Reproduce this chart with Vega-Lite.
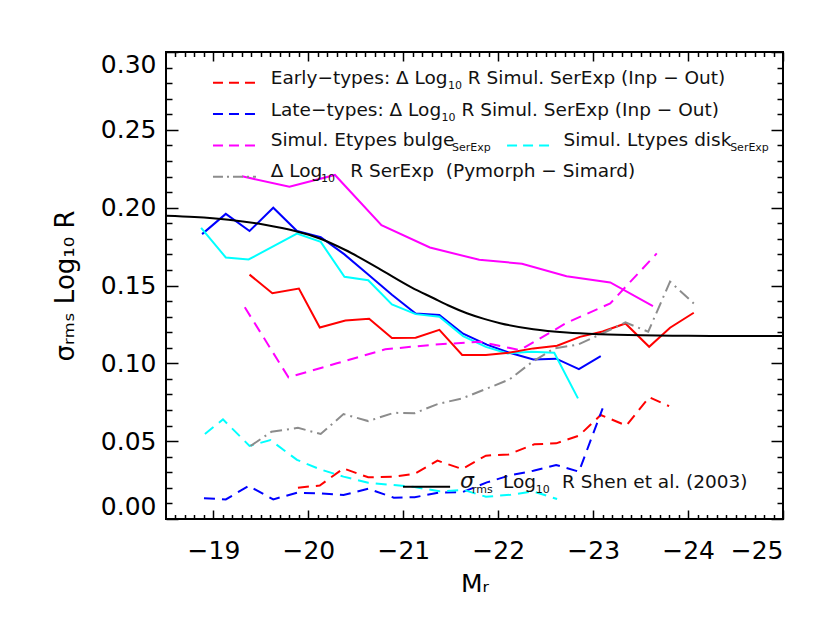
{
  "$schema": "https://vega.github.io/schema/vega-lite/v6.json",
  "width": 617,
  "height": 467,
  "autosize": {"type": "none"},
  "padding": {"left": 166, "top": 52, "right": 47, "bottom": 105},
  "background": "white",
  "config": {
    "view": {"stroke": "black", "strokeWidth": 2},
    "axis": {"grid": false, "tickColor": "black", "tickWidth": 1.5, "labelColor": "black", "titleColor": "black", "labelOverlap": false, "labelBound": false}
  },
  "datasets": {
    "solid": [
      {"series": "Late", "x": -18.88, "y": 0.183}, {"series": "Late", "x": -19.13, "y": 0.196}, {"series": "Late", "x": -19.38, "y": 0.185}, {"series": "Late", "x": -19.63, "y": 0.2}, {"series": "Late", "x": -19.88, "y": 0.185}, {"series": "Late", "x": -20.13, "y": 0.181}, {"series": "Late", "x": -20.38, "y": 0.17}, {"series": "Late", "x": -20.63, "y": 0.157}, {"series": "Late", "x": -20.88, "y": 0.144}, {"series": "Late", "x": -21.13, "y": 0.132}, {"series": "Late", "x": -21.38, "y": 0.131}, {"series": "Late", "x": -21.63, "y": 0.119}, {"series": "Late", "x": -21.88, "y": 0.112}, {"series": "Late", "x": -22.11, "y": 0.107}, {"series": "Late", "x": -22.37, "y": 0.1025}, {"series": "Late", "x": -22.61, "y": 0.103}, {"series": "Late", "x": -22.85, "y": 0.0963}, {"series": "Late", "x": -23.08, "y": 0.1046},
      {"series": "Ldisk", "x": -18.87, "y": 0.187}, {"series": "Ldisk", "x": -19.13, "y": 0.168}, {"series": "Ldisk", "x": -19.37, "y": 0.1667}, {"series": "Ldisk", "x": -19.88, "y": 0.1834}, {"series": "Ldisk", "x": -20.13, "y": 0.178}, {"series": "Ldisk", "x": -20.38, "y": 0.1556}, {"series": "Ldisk", "x": -20.63, "y": 0.1534}, {"series": "Ldisk", "x": -20.88, "y": 0.1378}, {"series": "Ldisk", "x": -21.13, "y": 0.1316}, {"series": "Ldisk", "x": -21.38, "y": 0.13}, {"series": "Ldisk", "x": -21.63, "y": 0.1175}, {"series": "Ldisk", "x": -21.87, "y": 0.1106}, {"series": "Ldisk", "x": -22.1, "y": 0.1064}, {"series": "Ldisk", "x": -22.35, "y": 0.1074}, {"series": "Ldisk", "x": -22.59, "y": 0.1068}, {"series": "Ldisk", "x": -22.84, "y": 0.0775},
      {"series": "Early", "x": -19.38, "y": 0.157}, {"series": "Early", "x": -19.62, "y": 0.145}, {"series": "Early", "x": -19.9, "y": 0.148}, {"series": "Early", "x": -20.12, "y": 0.123}, {"series": "Early", "x": -20.39, "y": 0.1275}, {"series": "Early", "x": -20.64, "y": 0.1286}, {"series": "Early", "x": -20.88, "y": 0.1163}, {"series": "Early", "x": -21.13, "y": 0.1164}, {"series": "Early", "x": -21.38, "y": 0.1215}, {"series": "Early", "x": -21.62, "y": 0.1054}, {"series": "Early", "x": -21.87, "y": 0.1054}, {"series": "Early", "x": -22.11, "y": 0.1068}, {"series": "Early", "x": -22.37, "y": 0.1096}, {"series": "Early", "x": -22.62, "y": 0.1113}, {"series": "Early", "x": -22.86, "y": 0.117}, {"series": "Early", "x": -23.1, "y": 0.1205}, {"series": "Early", "x": -23.34, "y": 0.1256}, {"series": "Early", "x": -23.59, "y": 0.1106}, {"series": "Early", "x": -23.81, "y": 0.1229}, {"series": "Early", "x": -24.06, "y": 0.1325},
      {"series": "Ebulge", "x": -19.3, "y": 0.2202}, {"series": "Ebulge", "x": -19.8, "y": 0.2134}, {"series": "Ebulge", "x": -20.28, "y": 0.221}, {"series": "Ebulge", "x": -20.77, "y": 0.1888}, {"series": "Ebulge", "x": -21.28, "y": 0.1744}, {"series": "Ebulge", "x": -21.8, "y": 0.1665}, {"series": "Ebulge", "x": -22.25, "y": 0.164}, {"series": "Ebulge", "x": -22.72, "y": 0.156}, {"series": "Ebulge", "x": -23.18, "y": 0.152}, {"series": "Ebulge", "x": -23.63, "y": 0.1368}
    ],
    "dashed": [
      {"series": "Ebulge", "x": -19.33, "y": 0.136}, {"series": "Ebulge", "x": -19.79, "y": 0.091}, {"series": "Ebulge", "x": -20.3, "y": 0.1}, {"series": "Ebulge", "x": -20.81, "y": 0.109}, {"series": "Ebulge", "x": -21.32, "y": 0.112}, {"series": "Ebulge", "x": -21.81, "y": 0.1138}, {"series": "Ebulge", "x": -22.23, "y": 0.1085}, {"series": "Ebulge", "x": -22.72, "y": 0.126}, {"series": "Ebulge", "x": -23.18, "y": 0.1385}, {"series": "Ebulge", "x": -23.67, "y": 0.1706},
      {"series": "Early", "x": -19.89, "y": 0.0201}, {"series": "Early", "x": -20.12, "y": 0.0215}, {"series": "Early", "x": -20.37, "y": 0.0325}, {"series": "Early", "x": -20.63, "y": 0.0268}, {"series": "Early", "x": -20.9, "y": 0.0272}, {"series": "Early", "x": -21.12, "y": 0.029}, {"series": "Early", "x": -21.36, "y": 0.0375}, {"series": "Early", "x": -21.62, "y": 0.0321}, {"series": "Early", "x": -21.87, "y": 0.0407}, {"series": "Early", "x": -22.11, "y": 0.0415}, {"series": "Early", "x": -22.38, "y": 0.048}, {"series": "Early", "x": -22.61, "y": 0.0486}, {"series": "Early", "x": -22.85, "y": 0.0535}, {"series": "Early", "x": -23.08, "y": 0.0668}, {"series": "Early", "x": -23.35, "y": 0.06}, {"series": "Early", "x": -23.59, "y": 0.0783}, {"series": "Early", "x": -23.8, "y": 0.0725},
      {"series": "Late", "x": -18.9, "y": 0.0133}, {"series": "Late", "x": -19.13, "y": 0.0126}, {"series": "Late", "x": -19.37, "y": 0.0212}, {"series": "Late", "x": -19.63, "y": 0.0126}, {"series": "Late", "x": -19.88, "y": 0.0169}, {"series": "Late", "x": -20.12, "y": 0.0165}, {"series": "Late", "x": -20.37, "y": 0.0154}, {"series": "Late", "x": -20.63, "y": 0.0195}, {"series": "Late", "x": -20.9, "y": 0.0137}, {"series": "Late", "x": -21.12, "y": 0.014}, {"series": "Late", "x": -21.38, "y": 0.017}, {"series": "Late", "x": -21.62, "y": 0.0172}, {"series": "Late", "x": -21.88, "y": 0.0235}, {"series": "Late", "x": -22.12, "y": 0.028}, {"series": "Late", "x": -22.37, "y": 0.031}, {"series": "Late", "x": -22.61, "y": 0.0347}, {"series": "Late", "x": -22.85, "y": 0.0304}, {"series": "Late", "x": -23.1, "y": 0.0711},
      {"series": "Ldisk", "x": -18.91, "y": 0.0546}, {"series": "Ldisk", "x": -19.1, "y": 0.064}, {"series": "Ldisk", "x": -19.38, "y": 0.047}, {"series": "Ldisk", "x": -19.6, "y": 0.0507}, {"series": "Ldisk", "x": -19.88, "y": 0.038}, {"series": "Ldisk", "x": -20.12, "y": 0.032}, {"series": "Ldisk", "x": -20.37, "y": 0.0272}, {"series": "Ldisk", "x": -20.63, "y": 0.0233}, {"series": "Ldisk", "x": -20.9, "y": 0.0218}, {"series": "Ldisk", "x": -21.12, "y": 0.0205}, {"series": "Ldisk", "x": -21.38, "y": 0.0178}, {"series": "Ldisk", "x": -21.64, "y": 0.0186}, {"series": "Ldisk", "x": -21.87, "y": 0.0143}, {"series": "Ldisk", "x": -22.13, "y": 0.0156}, {"series": "Ldisk", "x": -22.37, "y": 0.0177}, {"series": "Ldisk", "x": -22.62, "y": 0.0128}
    ],
    "pymorph": [
      {"x": -19.39, "y": 0.0469}, {"x": -19.61, "y": 0.056}, {"x": -19.89, "y": 0.0586}, {"x": -20.13, "y": 0.0546}, {"x": -20.37, "y": 0.0674}, {"x": -20.63, "y": 0.0629}, {"x": -20.9, "y": 0.0682}, {"x": -21.12, "y": 0.068}, {"x": -21.36, "y": 0.0738}, {"x": -21.62, "y": 0.0775}, {"x": -21.87, "y": 0.0835}, {"x": -22.12, "y": 0.0897}, {"x": -22.36, "y": 0.101}, {"x": -22.59, "y": 0.1096}, {"x": -22.84, "y": 0.112}, {"x": -23.09, "y": 0.119}, {"x": -23.34, "y": 0.1263}, {"x": -23.58, "y": 0.1203}, {"x": -23.81, "y": 0.1525}, {"x": -24.06, "y": 0.1385}
    ],
    "shen": [
      {"x": -18.5, "y": 0.1948}, {"x": -18.8, "y": 0.194}, {"x": -19.16, "y": 0.1922}, {"x": -19.54, "y": 0.189}, {"x": -19.86, "y": 0.185}, {"x": -20.12, "y": 0.1802}, {"x": -20.39, "y": 0.1728}, {"x": -20.74, "y": 0.161}, {"x": -21.09, "y": 0.1487}, {"x": -21.32, "y": 0.1418}, {"x": -21.47, "y": 0.1373}, {"x": -21.67, "y": 0.1322}, {"x": -21.86, "y": 0.1284}, {"x": -22.02, "y": 0.1258}, {"x": -22.37, "y": 0.1219}, {"x": -22.72, "y": 0.1198}, {"x": -23.07, "y": 0.1187}, {"x": -23.5, "y": 0.118}, {"x": -24.0, "y": 0.1177}, {"x": -24.5, "y": 0.1176}, {"x": -25.0, "y": 0.1175}
    ],
    "legendLines": [
      {"series": "Early", "style": "dash", "x": -18.995, "x2": -19.448, "y": 0.2803},
      {"series": "Late", "style": "dash", "x": -18.995, "x2": -19.448, "y": 0.2602},
      {"series": "Ebulge", "style": "dash", "x": -18.995, "x2": -19.448, "y": 0.2399},
      {"series": "Ldisk", "style": "dash", "x": -22.093, "x2": -22.546, "y": 0.2399},
      {"series": "Pymorph", "style": "dashdot", "x": -18.995, "x2": -19.448, "y": 0.2199},
      {"series": "Shen", "style": "solid", "x": -20.997, "x2": -21.493, "y": 0.02075}
    ],
    "legendMain": [
      {"x": -19.603, "y": 0.2793, "t": "Early−types: Δ Log"},
      {"x": -21.68, "y": 0.2793, "t": "R Simul. SerExp (Inp − Out)"},
      {"x": -19.603, "y": 0.2589, "t": "Late−types: Δ Log"},
      {"x": -21.613, "y": 0.2589, "t": "R Simul. SerExp (Inp − Out)"},
      {"x": -19.603, "y": 0.2393, "t": "Simul. Etypes bulge"},
      {"x": -22.687, "y": 0.2393, "t": "Simul. Ltypes disk"},
      {"x": -19.603, "y": 0.2195, "t": "Δ Log"},
      {"x": -20.44, "y": 0.2195, "t": "R SerExp\u00a0 (Pymorph − Simard)"},
      {"x": -22.051, "y": 0.0197, "t": "Log"},
      {"x": -22.673, "y": 0.0197, "t": "R Shen et al. (2003)"}
    ],
    "legendSub": [
      {"x": -21.47, "y": 0.2793, "t": "10"},
      {"x": -21.403, "y": 0.2589, "t": "10"},
      {"x": -21.514, "y": 0.2393, "t": "SerExp"},
      {"x": -24.443, "y": 0.2393, "t": "SerExp"},
      {"x": -20.133, "y": 0.2195, "t": "10"},
      {"x": -21.724, "y": 0.0197, "t": "rms"},
      {"x": -22.394, "y": 0.0197, "t": "10"}
    ],
    "sigma": [
      {"x": -21.598, "y": 0.0197, "t": "σ"}
    ]
  },
  "resolve": {"axis": {"x": "independent", "y": "independent"}},
  "layer": [
    {
      "data": {"name": "solid"},
      "mark": {"type": "line", "strokeWidth": 2},
      "encoding": {
        "x": {"field": "x", "type": "quantitative", "scale": {"domain": [-18.5, -25], "nice": false, "zero": false},
          "axis": {"orient": "bottom", "ticks": false, "domain": false, "values": [-19, -20, -21, -22, -23, -24, -25], "format": "d", "labelFont": "DejaVu Sans", "labelFontSize": 25, "labelPadding": 19, "title": "Mᵣ", "titleFont": "DejaVu Sans", "titleFontSize": 25, "titleFontWeight": "normal", "titlePadding": 8}},
        "y": {"field": "y", "type": "quantitative", "scale": {"domain": [0, 0.3], "nice": false, "zero": false},
          "axis": {"orient": "left", "ticks": false, "domain": false, "values": [0, 0.05, 0.1, 0.15, 0.2, 0.25, 0.3], "format": ".2f", "labelFlush": true, "labelFont": "DejaVu Sans", "labelFontSize": 25, "labelPadding": 10, "title": "σᵣₘₛ Log₁₀ R", "titleFont": "DejaVu Sans", "titleFontSize": 26, "titleFontWeight": "normal", "titlePadding": 22}},
        "color": {"field": "series", "type": "nominal", "scale": {"domain": ["Early", "Late", "Ebulge", "Ldisk", "Pymorph", "Shen"], "range": ["#ff0000", "#0000ff", "#ff00ff", "#00ffff", "#8c8c8c", "#000000"]}, "legend": null}
      }
    },
    {
      "data": {"name": "dashed"},
      "mark": {"type": "line", "strokeWidth": 2, "strokeDash": [11, 7]},
      "encoding": {
        "x": {"field": "x", "type": "quantitative", "scale": {"domain": [-18.5, -25], "nice": false, "zero": false},
          "axis": {"orient": "bottom", "labels": false, "domain": false, "values": [-19, -20, -21, -22, -23, -24, -25], "tickSize": -9, "title": null}},
        "y": {"field": "y", "type": "quantitative", "scale": {"domain": [0, 0.3], "nice": false, "zero": false},
          "axis": {"orient": "left", "labels": false, "domain": false, "values": [0, 0.05, 0.1, 0.15, 0.2, 0.25, 0.3], "tickSize": -12, "title": null}},
        "color": {"field": "series", "type": "nominal", "scale": {"domain": ["Early", "Late", "Ebulge", "Ldisk", "Pymorph", "Shen"], "range": ["#ff0000", "#0000ff", "#ff00ff", "#00ffff", "#8c8c8c", "#000000"]}, "legend": null}
      }
    },
    {
      "data": {"name": "pymorph"},
      "mark": {"type": "line", "strokeWidth": 2, "color": "#8c8c8c", "strokeDash": [12, 5, 2, 5]},
      "encoding": {
        "x": {"field": "x", "type": "quantitative", "scale": {"domain": [-18.5, -25], "nice": false, "zero": false},
          "axis": {"orient": "bottom", "labels": false, "domain": false, "values": [-18.6, -18.7, -18.8, -18.9, -19.1, -19.2, -19.3, -19.4, -19.5, -19.6, -19.7, -19.8, -19.9, -20.1, -20.2, -20.3, -20.4, -20.5, -20.6, -20.7, -20.8, -20.9, -21.1, -21.2, -21.3, -21.4, -21.5, -21.6, -21.7, -21.8, -21.9, -22.1, -22.2, -22.3, -22.4, -22.5, -22.6, -22.7, -22.8, -22.9, -23.1, -23.2, -23.3, -23.4, -23.5, -23.6, -23.7, -23.8, -23.9, -24.1, -24.2, -24.3, -24.4, -24.5, -24.6, -24.7, -24.8, -24.9], "tickSize": -4.5, "title": null}},
        "y": {"field": "y", "type": "quantitative", "scale": {"domain": [0, 0.3], "nice": false, "zero": false},
          "axis": {"orient": "left", "labels": false, "domain": false, "values": [0.01, 0.02, 0.03, 0.04, 0.06, 0.07, 0.08, 0.09, 0.11, 0.12, 0.13, 0.14, 0.16, 0.17, 0.18, 0.19, 0.21, 0.22, 0.23, 0.24, 0.26, 0.27, 0.28, 0.29], "tickSize": -6, "title": null}}
      }
    },
    {
      "data": {"name": "shen"},
      "mark": {"type": "line", "strokeWidth": 2, "color": "#000000", "interpolate": "monotone"},
      "encoding": {
        "x": {"field": "x", "type": "quantitative", "scale": {"domain": [-18.5, -25], "nice": false, "zero": false},
          "axis": {"orient": "top", "labels": false, "domain": false, "values": [-19, -20, -21, -22, -23, -24, -25], "tickSize": -9, "title": null}},
        "y": {"field": "y", "type": "quantitative", "scale": {"domain": [0, 0.3], "nice": false, "zero": false},
          "axis": {"orient": "right", "labels": false, "domain": false, "values": [0, 0.05, 0.1, 0.15, 0.2, 0.25, 0.3], "tickSize": -12, "title": null}}
      }
    },
    {
      "data": {"name": "legendLines"},
      "mark": {"type": "rule", "strokeWidth": 2},
      "encoding": {
        "x": {"field": "x", "type": "quantitative", "scale": {"domain": [-18.5, -25], "nice": false, "zero": false},
          "axis": {"orient": "top", "labels": false, "domain": false, "values": [-18.6, -18.7, -18.8, -18.9, -19.1, -19.2, -19.3, -19.4, -19.5, -19.6, -19.7, -19.8, -19.9, -20.1, -20.2, -20.3, -20.4, -20.5, -20.6, -20.7, -20.8, -20.9, -21.1, -21.2, -21.3, -21.4, -21.5, -21.6, -21.7, -21.8, -21.9, -22.1, -22.2, -22.3, -22.4, -22.5, -22.6, -22.7, -22.8, -22.9, -23.1, -23.2, -23.3, -23.4, -23.5, -23.6, -23.7, -23.8, -23.9, -24.1, -24.2, -24.3, -24.4, -24.5, -24.6, -24.7, -24.8, -24.9], "tickSize": -4.5, "title": null}},
        "x2": {"field": "x2"},
        "y": {"field": "y", "type": "quantitative", "scale": {"domain": [0, 0.3], "nice": false, "zero": false},
          "axis": {"orient": "right", "labels": false, "domain": false, "values": [0.01, 0.02, 0.03, 0.04, 0.06, 0.07, 0.08, 0.09, 0.11, 0.12, 0.13, 0.14, 0.16, 0.17, 0.18, 0.19, 0.21, 0.22, 0.23, 0.24, 0.26, 0.27, 0.28, 0.29], "tickSize": -6, "title": null}},
        "color": {"field": "series", "type": "nominal", "scale": {"domain": ["Early", "Late", "Ebulge", "Ldisk", "Pymorph", "Shen"], "range": ["#ff0000", "#0000ff", "#ff00ff", "#00ffff", "#8c8c8c", "#000000"]}, "legend": null},
        "strokeDash": {"field": "style", "type": "nominal", "scale": {"domain": ["dash", "dashdot", "solid"], "range": [[10, 6], [10, 4, 2, 4], [1, 0]]}, "legend": null}
      }
    },
    {
      "data": {"name": "legendMain"},
      "mark": {"type": "text", "font": "DejaVu Sans", "fontSize": 18.5, "align": "left", "baseline": "alphabetic", "color": "#111111"},
      "encoding": {
        "x": {"field": "x", "type": "quantitative", "scale": {"domain": [-18.5, -25], "nice": false, "zero": false}, "axis": null},
        "y": {"field": "y", "type": "quantitative", "scale": {"domain": [0, 0.3], "nice": false, "zero": false}, "axis": null},
        "text": {"field": "t", "type": "nominal"}
      }
    },
    {
      "data": {"name": "legendSub"},
      "mark": {"type": "text", "font": "DejaVu Sans", "fontSize": 11, "align": "left", "baseline": "alphabetic", "dy": 5, "color": "#111111"},
      "encoding": {
        "x": {"field": "x", "type": "quantitative", "scale": {"domain": [-18.5, -25], "nice": false, "zero": false}, "axis": null},
        "y": {"field": "y", "type": "quantitative", "scale": {"domain": [0, 0.3], "nice": false, "zero": false}, "axis": null},
        "text": {"field": "t", "type": "nominal"}
      }
    },
    {
      "data": {"name": "sigma"},
      "mark": {"type": "text", "font": "DejaVu Sans", "fontSize": 22, "fontStyle": "italic", "align": "left", "baseline": "alphabetic", "color": "#111111"},
      "encoding": {
        "x": {"field": "x", "type": "quantitative", "scale": {"domain": [-18.5, -25], "nice": false, "zero": false}, "axis": null},
        "y": {"field": "y", "type": "quantitative", "scale": {"domain": [0, 0.3], "nice": false, "zero": false}, "axis": null},
        "text": {"field": "t", "type": "nominal"}
      }
    }
  ]
}
